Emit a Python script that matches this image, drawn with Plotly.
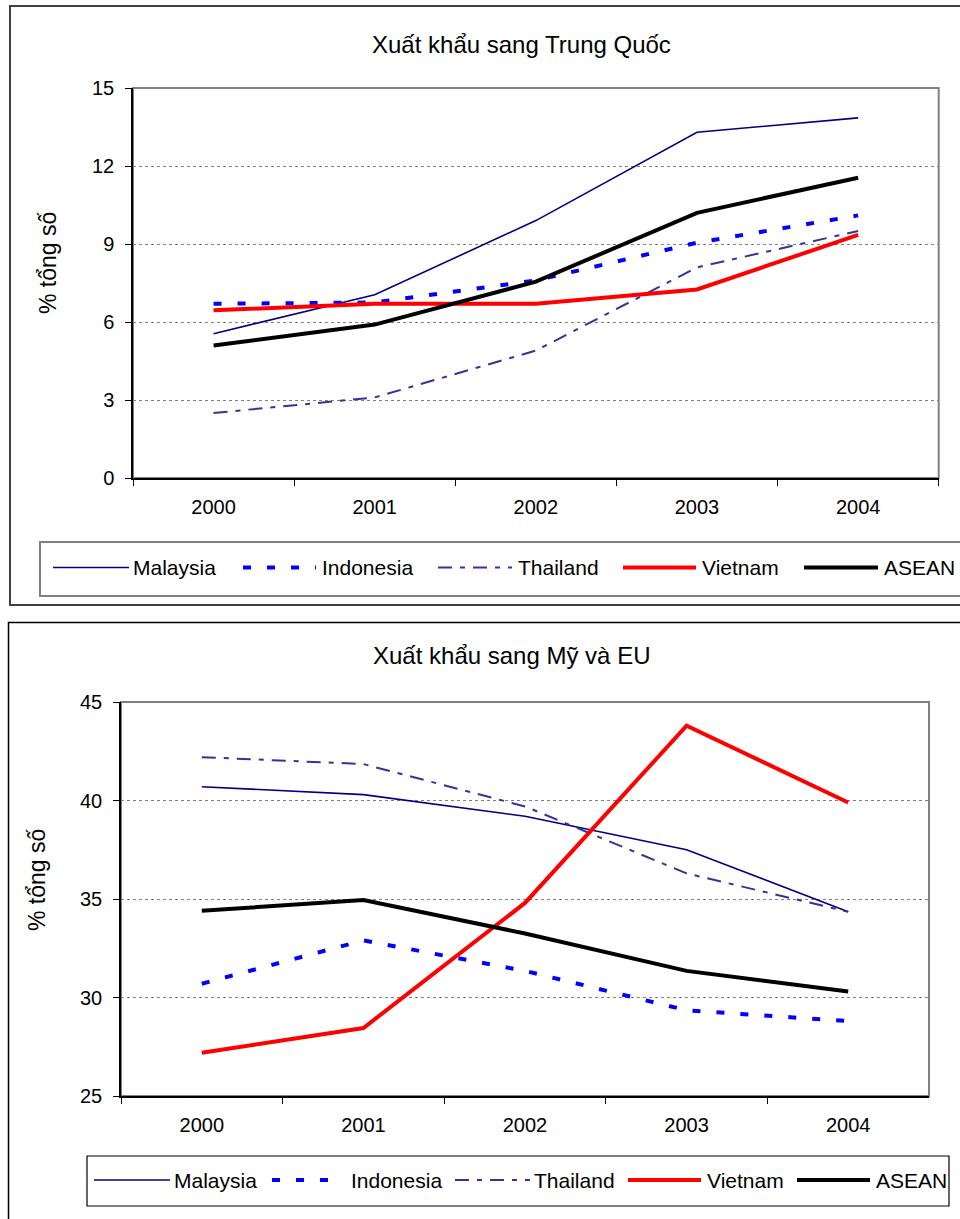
import plotly.graph_objects as go

# ---- data -------------------------------------------------------------
years = ["2000", "2001", "2002", "2003", "2004"]
series_names = ["Malaysia", "Indonesia", "Thailand", "Vietnam", "ASEAN"]

# exports to China, % of total exports
malaysia_cn = [5.55, 7.05, 9.9, 13.3, 13.85]
indonesia_cn = [6.7, 6.75, 7.6, 9.05, 10.1]
thailand_cn = [2.5, 3.1, 4.9, 8.1, 9.5]
vietnam_cn = [6.45, 6.7, 6.7, 7.25, 9.35]
asean_cn = [5.1, 5.9, 7.55, 10.2, 11.55]

# exports to the US and EU, % of total exports
malaysia_us = [40.7, 40.3, 39.2, 37.5, 34.35]
indonesia_us = [30.7, 32.9, 31.35, 29.35, 28.8]
thailand_us = [42.2, 41.85, 39.7, 36.3, 34.35]
vietnam_us = [27.2, 28.45, 34.8, 43.8, 39.9]
asean_us = [34.4, 34.95, 33.25, 31.35, 30.3]

title_cn = "Xuất khẩu sang Trung Quốc"
title_us = "Xuất khẩu sang Mỹ và EU"
y_title = "% tổng số"

# ---- styling ------------------------------------------------------------
W, H = 960, 1219
FONT = "Liberation Sans, Arial, sans-serif"


def px(x):
    return x / W


def py(y):
    return 1 - y / H


line_styles = {
    "Malaysia": dict(color="#000080", width=1.6, dash="solid"),
    "Indonesia": dict(color="#0000FF", width=4, dash="8px,16px"),
    "Thailand": dict(color="#333399", width=2, dash="14px,8px,5px,8px"),
    "Vietnam": dict(color="#FF0000", width=4, dash="solid"),
    "ASEAN": dict(color="#000000", width=4, dash="solid"),
}

panels = [
    dict(
        suffix="",
        values=[malaysia_cn, indonesia_cn, thailand_cn, vietnam_cn, asean_cn],
        title=title_cn,
        yrange=[0, 15], dtick=3,
        plot_box=(133, 88, 938.7, 478),
        title_xy=(521, 44),
        ytitle_xy=(48, 263),
        frame=dict(x0=10, y0=6, x1=975, y1=605, color="#404040", width=2),
        legend_box=dict(x0=40, y0=542, x1=975, y1=596, color="#808080", width=2),
        legend_y=567.5,
        legend_items=[(53, 129, 131), (243, 316, 320), (438, 512, 516),
                      (623, 696, 700), (804, 878, 882)],
    ),
    dict(
        suffix="2",
        values=[malaysia_us, indonesia_us, thailand_us, vietnam_us, asean_us],
        title=title_us,
        yrange=[25, 45], dtick=5,
        plot_box=(121, 702, 929, 1096),
        title_xy=(511, 655),
        ytitle_xy=(37, 880),
        frame=dict(x0=8.5, y0=622.5, x1=975, y1=1240, color="#000000", width=1.5),
        legend_box=dict(x0=87, y0=1156, x1=949, y1=1206, color="#000000", width=1.2),
        legend_y=1180,
        legend_items=[(94, 170, 172), (272, 344, 349), (455, 530, 532),
                      (628, 701, 705), (797, 870, 874)],
    ),
]

fig = go.Figure()
shapes = []
annotations = []
layout_axes = {}

for p in panels:
    xa = "x" + p["suffix"]
    ya = "y" + p["suffix"]
    for name, vals in zip(series_names, p["values"]):
        fig.add_trace(go.Scatter(
            x=years, y=vals, name=name, mode="lines",
            line=line_styles[name], xaxis=xa, yaxis=ya,
            showlegend=False, hoverinfo="x+y+name",
        ))

    x0, y0, x1, y1 = p["plot_box"]
    layout_axes["xaxis" + p["suffix"]] = dict(
        domain=[px(x0), px(x1)], anchor=ya, type="category",
        range=[-0.5, 4.5], tickson="boundaries", automargin=False,
        ticks="outside", ticklen=6, tickwidth=1.3, tickcolor="#000000",
        showline=True, linecolor="#000000", linewidth=1.5,
        showgrid=False, zeroline=False, fixedrange=True,
        tickfont=dict(family=FONT, size=20, color="#000000"),
        ticklabelstandoff=10,
    )
    layout_axes["yaxis" + p["suffix"]] = dict(
        domain=[py(y1), py(y0)], anchor=xa, automargin=False,
        range=p["yrange"], tick0=p["yrange"][0], dtick=p["dtick"],
        ticks="outside", ticklen=6, tickwidth=1.3, tickcolor="#000000",
        showline=True, linecolor="#000000", linewidth=1.5,
        showgrid=True, gridcolor="#808080", gridwidth=1, griddash="dot",
        zeroline=False, fixedrange=True,
        tickfont=dict(family=FONT, size=20, color="#000000"),
        ticklabelstandoff=7,
    )

    # grey border around the plotting area (axis lines cover left/bottom)
    shapes.append(dict(
        type="rect", xref=xa + " domain", yref=ya + " domain",
        x0=0, x1=1, y0=0, y1=1, layer="below",
        line=dict(color="#808080", width=2), fillcolor="rgba(0,0,0,0)",
    ))

    # outer chart frame
    f = p["frame"]
    shapes.append(dict(
        type="rect", xref="paper", yref="paper",
        x0=px(f["x0"]), x1=px(f["x1"]), y0=py(f["y1"]), y1=py(f["y0"]),
        line=dict(color=f["color"], width=f["width"]), fillcolor="rgba(0,0,0,0)",
    ))

    # legend box
    lb = p["legend_box"]
    shapes.append(dict(
        type="rect", xref="paper", yref="paper",
        x0=px(lb["x0"]), x1=px(lb["x1"]), y0=py(lb["y1"]), y1=py(lb["y0"]),
        line=dict(color=lb["color"], width=lb["width"]), fillcolor="#FFFFFF",
    ))
    for name, (lx0, lx1, tx) in zip(series_names, p["legend_items"]):
        st = line_styles[name]
        shapes.append(dict(
            type="line", xref="paper", yref="paper",
            x0=px(lx0), x1=px(lx1), y0=py(p["legend_y"]), y1=py(p["legend_y"]),
            line=dict(color=st["color"], width=st["width"], dash=st["dash"]),
        ))
        annotations.append(dict(
            text=name, xref="paper", yref="paper",
            x=px(tx), y=py(p["legend_y"]), xanchor="left", yanchor="middle",
            showarrow=False, font=dict(family=FONT, size=21, color="#000000"),
        ))

    # chart title
    tx, ty = p["title_xy"]
    annotations.append(dict(
        text=p["title"], xref="paper", yref="paper", x=px(tx), y=py(ty),
        xanchor="center", yanchor="middle", showarrow=False,
        font=dict(family=FONT, size=24, color="#000000"),
    ))
    # y-axis title
    yx, yy = p["ytitle_xy"]
    annotations.append(dict(
        text=y_title, xref="paper", yref="paper", x=px(yx), y=py(yy),
        xanchor="center", yanchor="middle", showarrow=False, textangle=-90,
        font=dict(family=FONT, size=23, color="#000000"),
    ))

fig.update_layout(
    width=W, height=H,
    margin=dict(l=0, r=0, t=0, b=0, autoexpand=False),
    paper_bgcolor="#FFFFFF", plot_bgcolor="#FFFFFF",
    showlegend=False,
    shapes=shapes, annotations=annotations,
    font=dict(family=FONT, color="#000000"),
    **layout_axes,
)

fig.write_html("out.html", config={"displayModeBar": False})
